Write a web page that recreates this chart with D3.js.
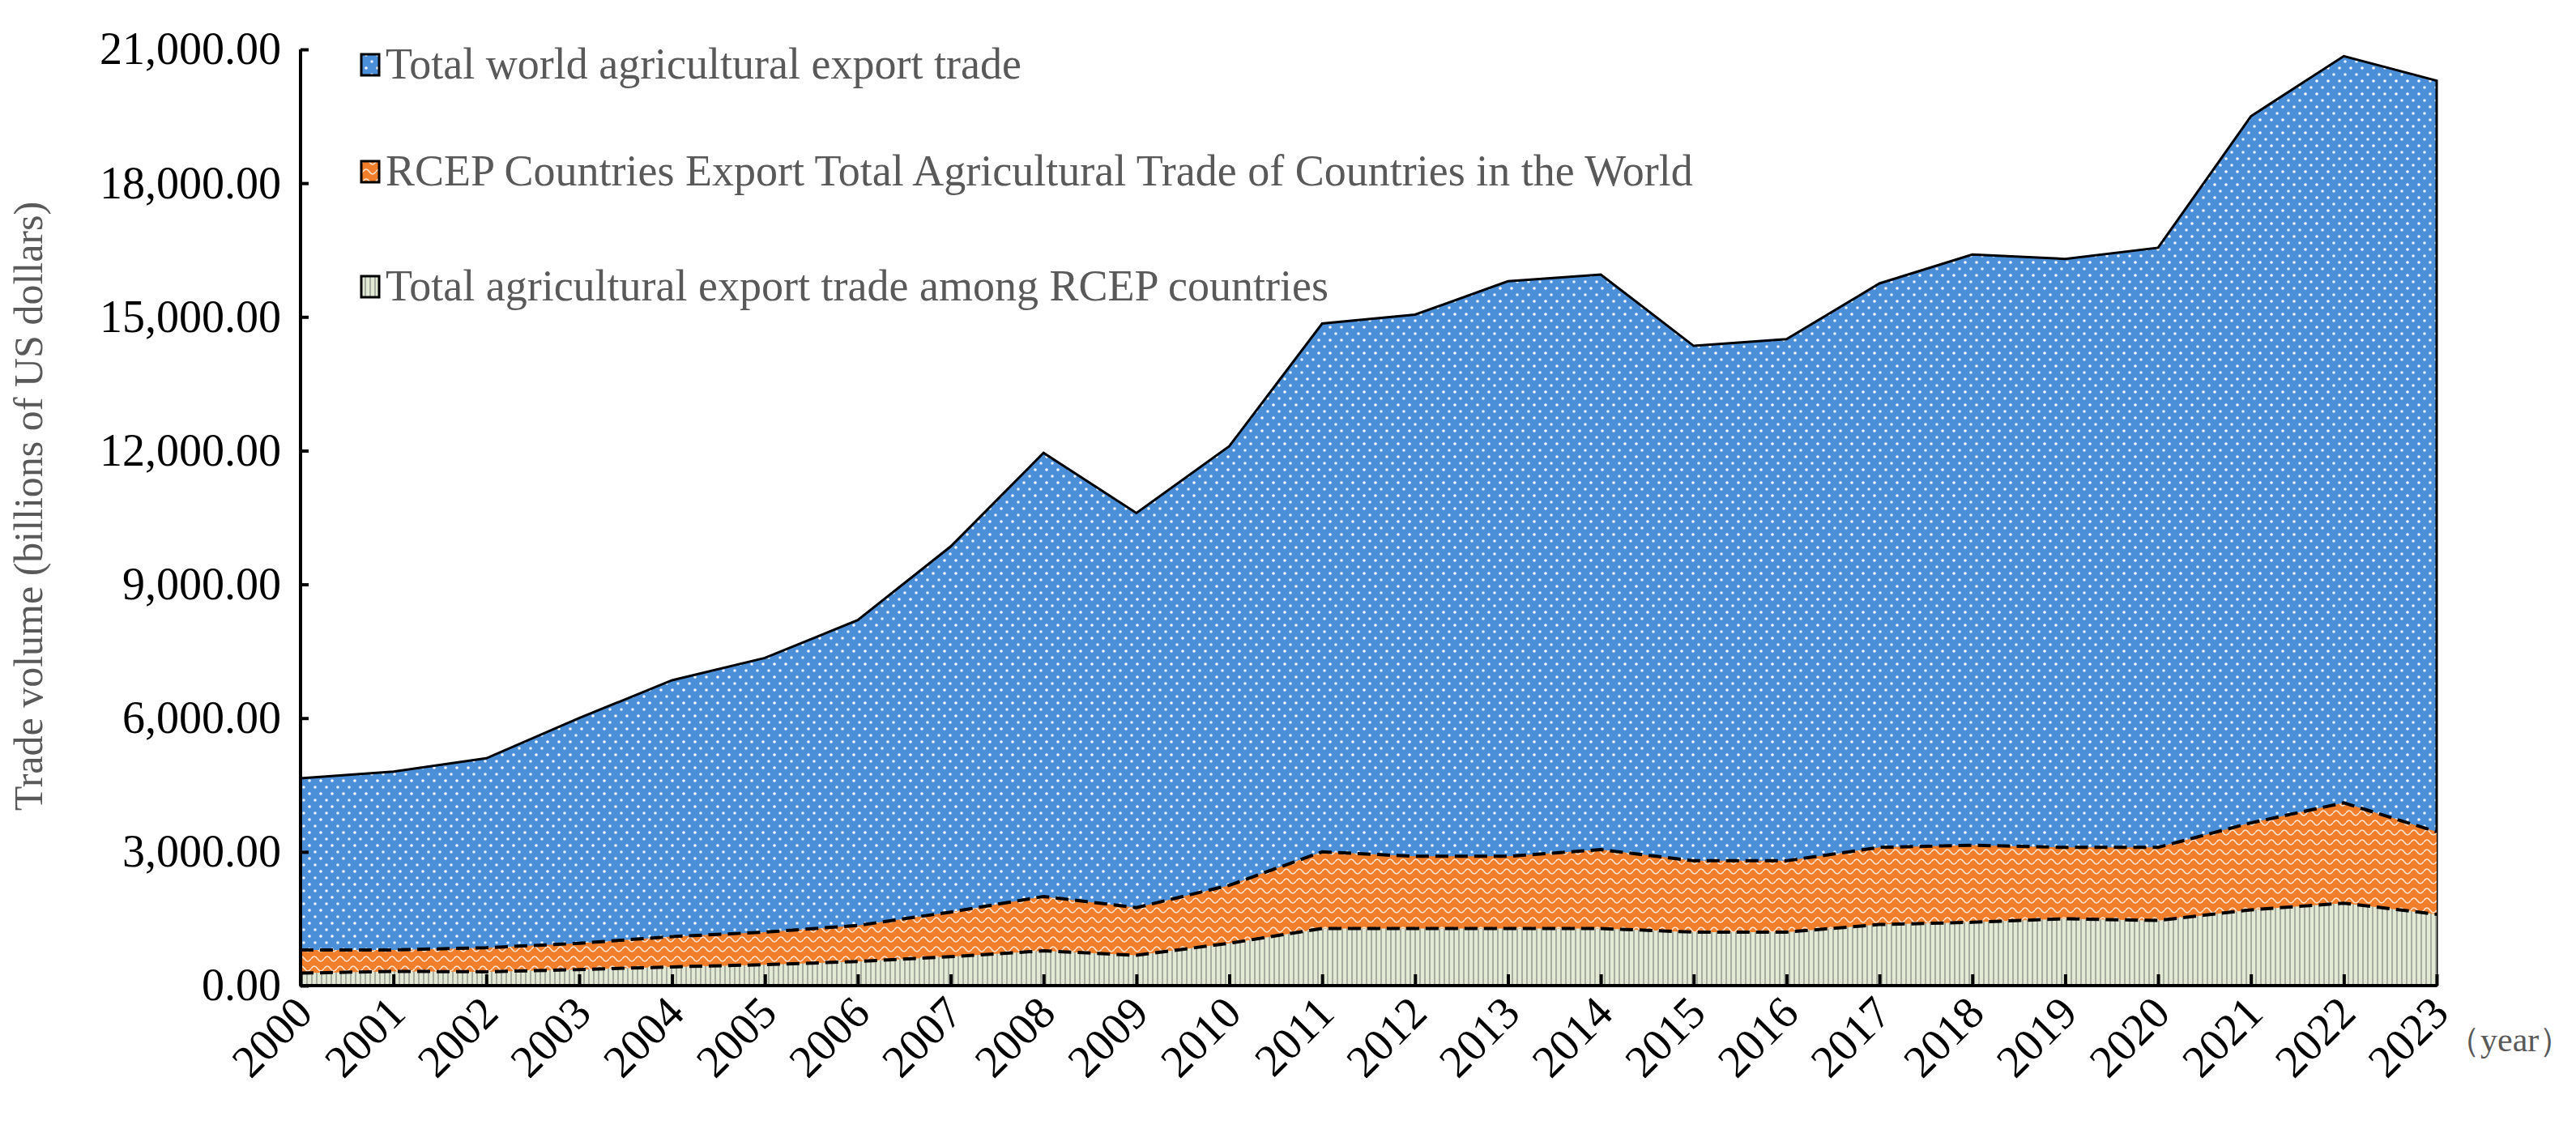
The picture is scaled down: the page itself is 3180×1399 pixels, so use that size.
<!DOCTYPE html>
<html><head><meta charset="utf-8">
<script src="https://cdn.jsdelivr.net/npm/d3@7"></script>
<style>body{margin:0;background:#fff}</style></head>
<body><svg id="c" width="3180" height="1399"></svg>
<script>
const years = ["2000","2001","2002","2003","2004","2005","2006","2007","2008","2009","2010","2011","2012","2013","2014","2015","2016","2017","2018","2019","2020","2021","2022","2023"];
const worldTotal = [4650,4800,5100,6000,6850,7350,8200,9850,11950,10600,12100,14850,15050,15800,15950,14350,14500,15750,16400,16300,16550,19500,20850,20300];
const rcepWorld = [800,800,850,950,1100,1200,1350,1650,2000,1750,2250,3000,2900,2900,3050,2800,2800,3100,3150,3100,3100,3650,4100,3450];
const rcepIntra = [280,320,310,360,420,470,540,650,780,680,950,1280,1280,1280,1280,1200,1200,1370,1420,1500,1460,1700,1850,1600];
const yTicks = [0,3000,6000,9000,12000,15000,18000,21000];
const legendLabels = ["Total world agricultural export trade","RCEP Countries Export Total Agricultural Trade of Countries in the World","Total agricultural export trade among RCEP countries"];

const svg = d3.select("#c");
const L=371,R=3008,T=61,B=1217;
const x = d3.scalePoint().domain(years).range([L,R]);
const y = d3.scaleLinear().domain([0,21000]).range([B,T]);
const defs = svg.append("defs");
const p1 = defs.append("pattern").attr("id","dots").attr("width",14).attr("height",16).attr("patternUnits","userSpaceOnUse");
p1.append("rect").attr("width",14).attr("height",16).attr("fill","#4A8FD8");
p1.append("circle").attr("cx",4).attr("cy",4).attr("r",1.8).attr("fill","#fff");
p1.append("circle").attr("cx",11).attr("cy",12).attr("r",1.8).attr("fill","#e8f0ff");
const p2 = defs.append("pattern").attr("id","zig").attr("width",16).attr("height",12).attr("patternUnits","userSpaceOnUse");
p2.append("rect").attr("width",16).attr("height",12).attr("fill","#F07E2B");
p2.append("path").attr("d","M0,8 Q4,2 8,8 T16,8").attr("fill","none").attr("stroke","#fbe3cf").attr("stroke-width",1.6);
const p3 = defs.append("pattern").attr("id","vl").attr("width",6).attr("height",10).attr("patternUnits","userSpaceOnUse");
p3.append("rect").attr("width",6).attr("height",10).attr("fill","#E2EAD6");
p3.append("rect").attr("width",2).attr("height",10).attr("fill","#A7ACA0");

function area(vals){return d3.area().x((d,i)=>x(years[i])).y0(B).y1(d=>y(d))(vals);}
function line(vals){return d3.line().x((d,i)=>x(years[i])).y(d=>y(d))(vals);}
svg.append("path").attr("d",area(worldTotal)).attr("fill","url(#dots)").attr("stroke","#000").attr("stroke-width",3);
svg.append("path").attr("d",area(rcepWorld)).attr("fill","url(#zig)");
svg.append("path").attr("d",line(rcepWorld)).attr("fill","none").attr("stroke","#000").attr("stroke-width",4).attr("stroke-dasharray","16,8");
svg.append("path").attr("d",area(rcepIntra)).attr("fill","url(#vl)");
svg.append("path").attr("d",line(rcepIntra)).attr("fill","none").attr("stroke","#000").attr("stroke-width",4).attr("stroke-dasharray","16,8");

const ya = svg.append("g").attr("transform",`translate(${L},0)`).call(d3.axisLeft(y).tickValues(yTicks).tickSize(-10).tickPadding(24).tickFormat(d3.format(",.2f")));
const xa = svg.append("g").attr("transform",`translate(0,${B})`).call(d3.axisBottom(x).tickSize(-14).tickPadding(10));
[ya,xa].forEach(a=>{a.selectAll("path,line").attr("stroke","#000").attr("stroke-width",4);
 a.selectAll("text").attr("font-family","Liberation Serif").attr("font-size",56).attr("fill","#000");});
ya.select(".domain").attr("d",`M0,${T}V${B}`);
xa.select(".domain").attr("d",`M${L},0H${R}`);
xa.selectAll("text").attr("text-anchor","end").attr("dy",0).attr("transform","translate(10,30) rotate(-45)");
svg.append("text").attr("x",3020).attr("y",1298).attr("font-family","Liberation Serif").attr("font-size",42).attr("fill","#595959").text("（year）");
svg.append("text").attr("transform","translate(52,625) rotate(-90)").attr("text-anchor","middle").attr("font-family","Liberation Serif").attr("font-size",50).attr("fill","#595959").text("Trade volume (billions of US dollars)");
const fills=["url(#dots)","url(#zig)","url(#vl)"], ly=[81,213,355];
legendLabels.forEach((t,i)=>{
 svg.append("rect").attr("x",446).attr("y",ly[i]-14).attr("width",22).attr("height",26).attr("fill",fills[i]).attr("stroke","#000").attr("stroke-width",3);
 svg.append("text").attr("x",476).attr("y",ly[i]+16).attr("font-family","Liberation Serif").attr("font-size",54).attr("fill","#595959").text(t);
});
</script></body></html>
